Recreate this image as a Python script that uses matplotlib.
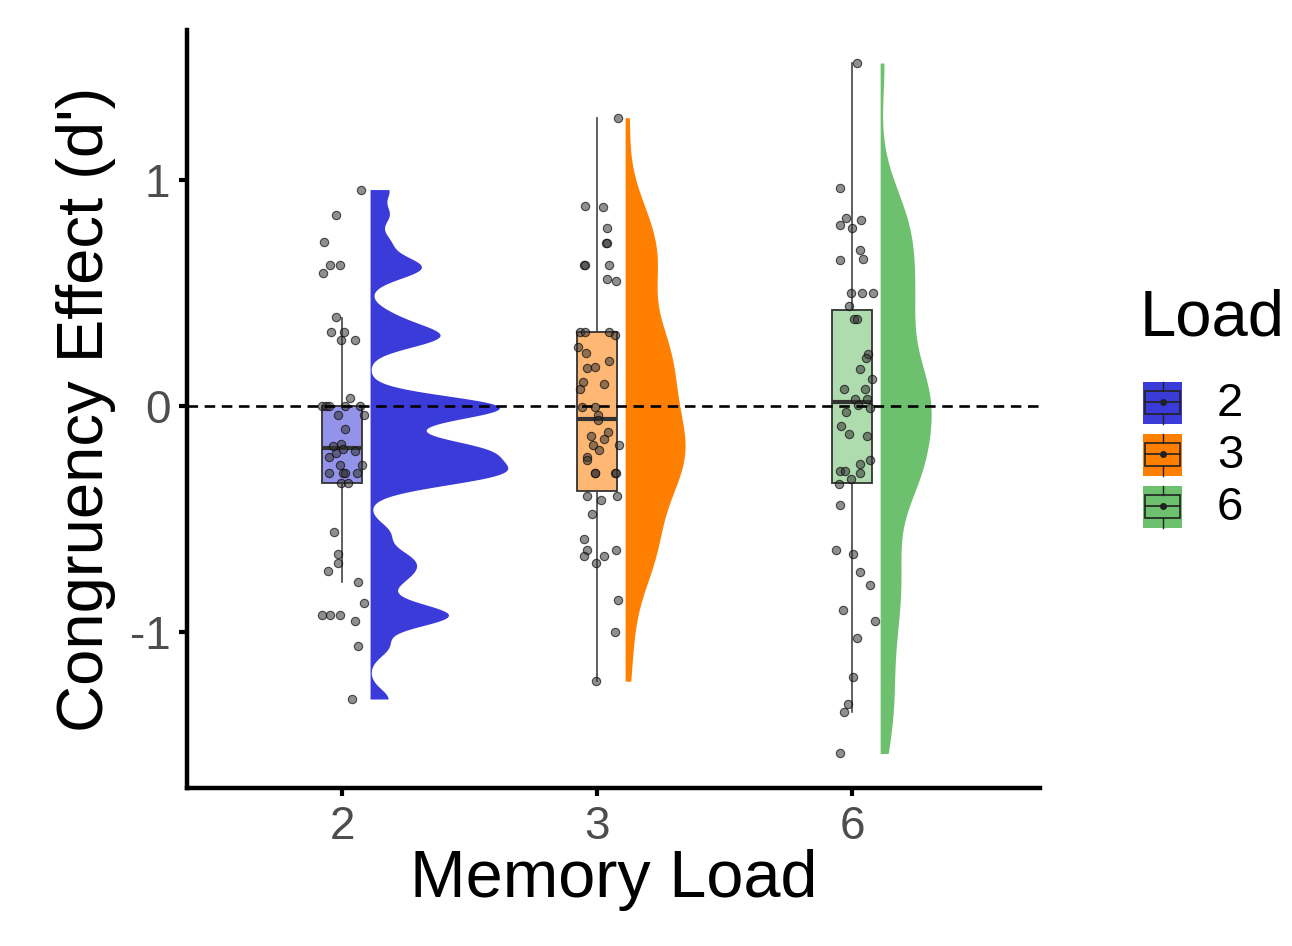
"""
    Raincloud plot: congruency effect (d') by memory load
    jittered points + boxplot + half density per load
"""

import numpy as np
import matplotlib.pyplot as plt
from matplotlib.patches import Rectangle

FONTSIZE = 33

plt.rcParams.update({
    "font.family": "sans-serif",
    "font.sans-serif": ["Liberation Sans", "DejaVu Sans"],
    "font.size": FONTSIZE,
    "axes.linewidth": 3.2,
})

loads = ['2', '3', '6']
colors = ['#3B3BD9', '#FF7F00', '#6DC06D']

# d' congruency effect per participant
load2_values = [0.959, 0.848, 0.726, 0.625, 0.625, 0.590, 0.395, 0.327, 0.327, 0.292,
                0.292, 0.037, 0.0, 0.0, 0.0, 0.0, 0.0, -0.041, -0.041,
                -0.099, -0.175, -0.168, -0.19, -0.2, -0.206, -0.224, -0.261, -0.261, -0.295,
                -0.295, -0.295, -0.295, -0.339, -0.339, -0.558, -0.652, -0.693, -0.729, -0.78,
                -0.872, -0.926, -0.926, -0.926, -0.951, -1.062, -1.296]
load3_values = [1.277, 0.885, 0.882, 0.789, 0.723, 0.723, 0.627, 0.627, 0.627, 0.562,
                0.553, 0.329, 0.329, 0.329, 0.314, 0.262, 0.236, 0.2, 0.167, 0.174,
                0.108, 0.1, 0.074, -0.003, -0.003, -0.04, -0.06, -0.114, -0.133, -0.147,
                -0.173, -0.195, -0.173, -0.227, -0.239, -0.295, -0.295, -0.295, -0.295, -0.397,
                -0.397, -0.416, -0.475, -0.586, -0.637, -0.664, -0.637, -0.693, -0.664, -0.858,
                -0.999, -1.217]
load6_values = [1.519, 0.966, 0.833, 0.804, 0.789, 0.823, 0.69, 0.653, 0.649, 0.499,
                0.499, 0.499, 0.442, 0.388, 0.384, 0.233, 0.215, 0.164, 0.122, 0.074,
                0.074, 0.031, 0.031, 0.004, -0.01, -0.025, -0.088, -0.121, -0.133, -0.239,
                -0.254, -0.288, -0.288, -0.295, -0.324, -0.345, -0.438, -0.637, -0.652, -0.736,
                -0.792, -0.9, -0.95, -1.028, -1.198, -1.316, -1.353, -1.537]

# horizontal jitter of each point (category units)
load2_jitter = [0.076, -0.023, -0.07, -0.049, -0.008, -0.076, -0.024, -0.043, 0.008, -0.003,
                0.049, 0.031, -0.077, -0.064, -0.050, 0.011, 0.072, -0.016, 0.085,
                0.011, -0.036, -0.003, 0.004, 0.051, -0.023, -0.05, -0.009, 0.078, -0.05,
                0.002, 0.011, 0.058, -0.003, 0.024, -0.03, -0.016, -0.016, -0.053, 0.062,
                0.088, -0.077, -0.047, -0.009, 0.049, 0.062, 0.041]
load3_jitter = [0.084, -0.047, 0.022, 0.04, 0.036, 0.038, -0.05, -0.048, 0.047, 0.038,
                0.073, -0.067, -0.047, 0.047, 0.071, -0.073, -0.044, 0.047, -0.04, -0.008,
                -0.054, 0.029, -0.067, -0.06, -0.01, 0.005, 0.005, 0.042, -0.023, 0.028,
                -0.014, 0.009, 0.086, -0.04, -0.04, -0.01, -0.008, 0.071, 0.073, -0.04,
                0.078, 0.016, -0.02, -0.05, -0.04, -0.053, 0.073, -0.003, 0.027, 0.082,
                0.07, -0.003]
load6_jitter = [0.021, -0.047, -0.024, -0.047, 0.001, 0.034, 0.031, 0.041, -0.047, -0.005,
                0.038, 0.081, -0.011, 0.009, 0.018, 0.064, 0.055, 0.031, 0.077, -0.032,
                0.051, 0.011, 0.057, 0.025, 0.071, -0.024, -0.044, -0.011, 0.057, 0.071,
                0.031, -0.047, -0.027, 0.031, -0.005, -0.05, -0.047, -0.063, 0.005, 0.031,
                0.071, -0.037, 0.09, 0.021, 0.005, -0.017, -0.031, -0.047]

# boxplot summary per load
box_q1 = [-0.34, -0.375, -0.339]
box_med = [-0.185, -0.055, 0.019]
box_q3 = [0.0, 0.329, 0.428]
whisker_lo = [-0.777, -1.217, -1.353]
whisker_hi = [0.392, 1.277, 1.519]

# density smoothing + max half-violin width per load
KDE_BW = [0.045, 0.16, 0.17]
VIOLIN_MAXW = [0.54, 0.235, 0.20]
VIOLIN_NUDGE = 0.11

values = [load2_values, load3_values, load6_values]
jitters = [load2_jitter, load3_jitter, load6_jitter]


def half_violin(ax, vals, pos, bw, maxw, color):
    v = np.asarray(vals)
    grid = np.linspace(v.min(), v.max(), 512)
    dens = np.exp(-0.5 * ((grid[:, None] - v[None, :]) / bw) ** 2).sum(axis=1)
    dens = dens / dens.max() * maxw
    ax.fill_betweenx(grid, pos, pos + dens, color=color, lw=0, zorder=4)


fig = plt.figure(figsize=(12.92, 9.46), dpi=100)
ax = fig.add_axes([0.1447, 0.167, 0.805 - 0.1447, 0.968 - 0.167])

positions = np.arange(1, len(loads) + 1)

stats = []
for i in range(len(loads)):
    stats.append(dict(med=box_med[i], q1=box_q1[i], q3=box_q3[i],
                      whislo=whisker_lo[i], whishi=whisker_hi[i], fliers=[]))
bp = ax.bxp(stats, positions=positions, widths=0.16, patch_artist=True,
            showfliers=False, showcaps=False,
            boxprops=dict(edgecolor='#333333', linewidth=1.3),
            whiskerprops=dict(color='#444444', linewidth=1.2),
            medianprops=dict(color='#333333', linewidth=3))
for patch, c in zip(bp['boxes'], colors):
    patch.set_facecolor(c)
    fc = patch.get_facecolor()
    patch.set_facecolor((fc[0], fc[1], fc[2], 0.55))
    patch.set_zorder(2)

for i in range(len(loads)):
    x = positions[i] + np.asarray(jitters[i])
    ax.scatter(x, values[i], s=36, facecolor=(0.2, 0.2, 0.2, 0.55),
               edgecolor=(0.05, 0.05, 0.05, 0.7), linewidth=0.8, zorder=3)
    half_violin(ax, values[i], positions[i] + VIOLIN_NUDGE, KDE_BW[i], VIOLIN_MAXW[i], colors[i])

ax.axhline(0, color='black', lw=1.9, ls=(0, (4, 2.5)), zorder=5)

ax.set_xlim(0.392, 3.737)
ax.set_ylim(-1.69, 1.664)
ax.set_xticks(positions)
ax.set_xticklabels(loads)
ax.set_yticks([-1, 0, 1])
ax.set_yticklabels(['-1', '0', '1'])
ax.tick_params(axis='both', length=6, width=3, color='black', labelcolor='#4D4D4D',
               labelsize=FONTSIZE, pad=6)
for side in ['top', 'right']:
    ax.spines[side].set_visible(False)

ax.set_xlabel('Memory Load', fontsize=48, labelpad=0)
ax.set_ylabel("Congruency Effect (d')", fontsize=47, labelpad=10)

# legend drawn by hand (boxplot key glyphs), in pixel coords
lax = fig.add_axes([0, 0, 1, 1], facecolor='none')
lax.set_xlim(0, 1292)
lax.set_ylim(946, 0)
lax.axis('off')
lax.text(1140, 318, 'Load', fontsize=47, va='center', ha='left')
key_top = [382, 434, 486]
for c, lab, yt in zip(colors, loads, key_top):
    lax.add_patch(Rectangle((1143, yt), 39, 42, facecolor=c, edgecolor='none'))
    lax.add_patch(Rectangle((1145, yt + 9), 35, 23, facecolor='none',
                            edgecolor='#222222', lw=1.2))
    lax.plot([1145, 1180], [yt + 20, yt + 20], color='#222222', lw=1.2)
    lax.plot([1162.5, 1162.5], [yt, yt + 9], color='#222222', lw=1.0)
    lax.plot([1162.5, 1162.5], [yt + 32, yt + 42], color='#222222', lw=1.0)
    lax.plot(1162.5, yt + 20, 'o', ms=4, color='#222222')
    lax.text(1217, yt + 22, lab, fontsize=34, va='center', ha='left')

fig.savefig('out.png', dpi=100)
